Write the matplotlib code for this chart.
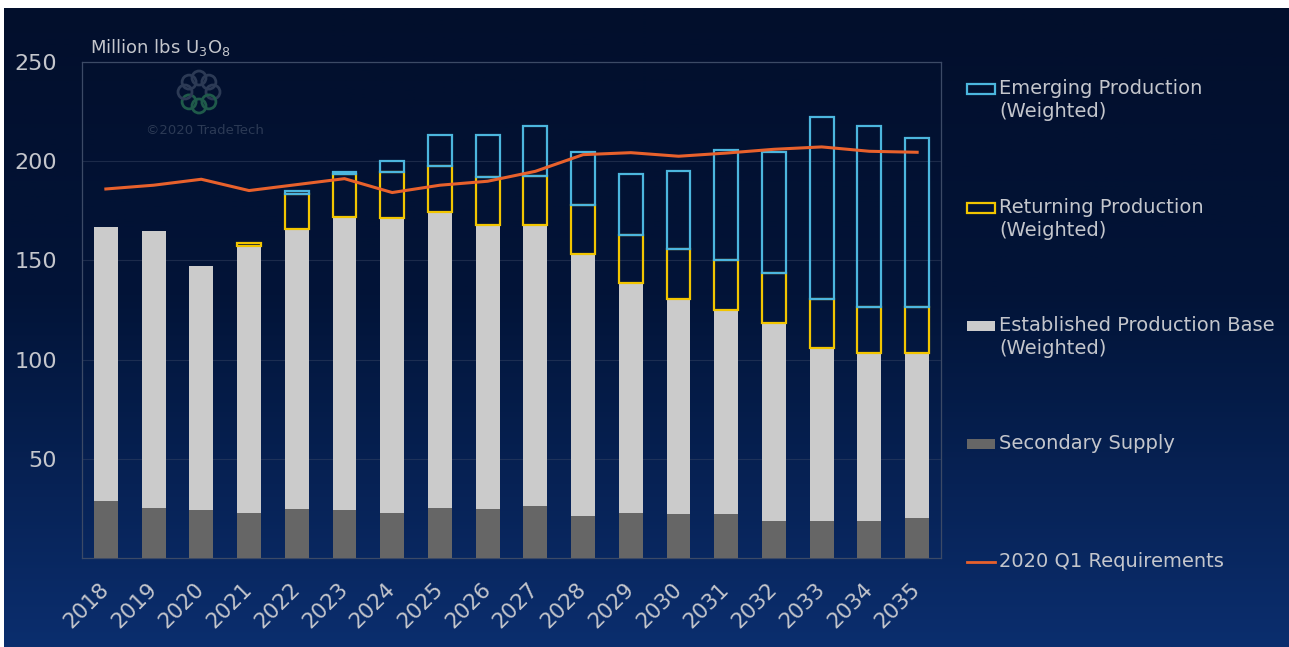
import numpy as np
import matplotlib
matplotlib.use("Agg")
import matplotlib.pyplot as plt
import matplotlib.patches as patches

years = [str(y) for y in range(2018, 2036)]
secondary = [28.6, 25.2, 24.0, 22.9, 24.7, 24.0, 22.9, 25.2, 24.7, 26.1,
             21.0, 22.9, 22.4, 22.0, 18.7, 18.4, 18.4, 20.2]
established = [138.0, 139.4, 123.0, 134.3, 141.2, 148.0, 148.5, 149.1, 142.9, 141.5,
               132.2, 115.7, 108.0, 103.0, 99.6, 87.3, 84.8, 83.0]
returning = [0, 0, 0, 1.7, 17.8, 21.8, 23.2, 23.3, 24.3, 24.7,
             24.8, 24.1, 25.1, 25.0, 25.2, 24.7, 23.3, 23.3]
emerging = [0, 0, 0, 0, 1.3, 0.8, 5.4, 15.4, 21.1, 25.3,
            26.5, 30.6, 39.4, 55.5, 61.1, 91.7, 91.1, 85.2]
requirements = [186.0, 187.9, 190.9, 185.2, 188.2, 191.2, 184.2, 187.9, 189.9, 194.9,
                203.3, 204.3, 202.5, 204.1, 206.0, 207.2, 205.0, 204.5]

legend_labels = ["Emerging Production\n(Weighted)",
                 "Returning Production\n(Weighted)",
                 "Established Production Base\n(Weighted)",
                 "Secondary Supply",
                 "2020 Q1 Requirements"]

C_SEC = "#666666"
C_EST = "#cbcbcb"
C_RET = "#f2c500"
C_EMG = "#4cb6de"
C_REQ = "#e8612c"
C_TXT = "#c4c6cc"
FONT = "DejaVu Sans"

fig = plt.figure(figsize=(12.89, 6.47), dpi=100, facecolor="white")

# background gradient (dark navy top -> blue bottom)
bg = fig.add_axes([4 / 1289, 0, 1 - 4 / 1289, 1 - 8 / 647])
bg.axis("off")
top = np.array([2, 15, 44]) / 255.0
mid = np.array([2, 20, 56]) / 255.0
bot = np.array([11, 46, 110]) / 255.0
t = np.linspace(0, 1, 256)[:, None]
grad = np.where(t < 0.45, top + (mid - top) * (t / 0.45),
                mid + (bot - mid) * ((t - 0.45) / 0.55))
bg.imshow(grad[:, None, :].repeat(2, axis=1), aspect="auto", extent=[0, 1, 0, 1])
bg.set_xlim(0, 1)
bg.set_ylim(0, 1)

ax = fig.add_axes([82 / 1289, 1 - 558 / 647, (941 - 82) / 1289, (558 - 62) / 647])
ax.patch.set_alpha(0)

x = np.arange(len(years))
sec = np.array(secondary)
est = np.array(established)
ret = np.array(returning)
emg = np.array(emerging)
w = 0.5

ax.bar(x, sec, w, color=C_SEC, zorder=3)
ax.bar(x, est, w, bottom=sec, color=C_EST, zorder=3)
m = ret > 0
ax.bar(x[m], ret[m], w, bottom=(sec + est)[m], facecolor="none",
       edgecolor=C_RET, linewidth=1.6, zorder=4)
m = emg > 0
ax.bar(x[m], emg[m], w, bottom=(sec + est + ret)[m], facecolor="none",
       edgecolor=C_EMG, linewidth=1.6, zorder=4)
ax.plot(x, requirements, color=C_REQ, linewidth=2.2, zorder=5)

ax.set_xlim(-0.5, len(years) - 0.5)
ax.set_ylim(0, 250)
ax.set_yticks([50, 100, 150, 200, 250])
ax.set_yticklabels(["50", "100", "150", "200", "250"], fontsize=16,
                   color=C_TXT, family=FONT)
ax.set_xticks(x)
ax.set_xticklabels(years, rotation=45, ha="right", va="center",
                   rotation_mode="anchor", fontsize=15.5, color=C_TXT, family=FONT)
ax.tick_params(axis="y", length=0, pad=18)
ax.tick_params(axis="x", length=0, pad=20)
ax.grid(axis="y", color="#3c4a66", linewidth=0.8, alpha=0.45, zorder=0)
for s in ax.spines.values():
    s.set_color("#3c4a66")
    s.set_linewidth(0.9)

fig.text(90 / 1289, 1 - 47 / 647, "Million lbs U$_3$O$_8$", fontsize=13,
         color=C_TXT, family=FONT, va="center", ha="left")

# watermark
fig.text(205 / 1289, 1 - 131 / 647, "©2020 TradeTech", fontsize=9.5,
         color="#2c3a55", family=FONT, ha="center", va="center")
for k in range(8):
    a = 2 * np.pi * k / 8
    cx = 199 + 14 * np.cos(a)
    cy = 92 + 14 * np.sin(a)
    col = "#1f5a4a" if k in (1, 2, 3) else "#2c3a55"
    fig.add_artist(patches.Ellipse((cx / 1289, 1 - cy / 647), 14 / 1289, 14 / 647,
                                   transform=fig.transFigure, fill=False,
                                   edgecolor=col, linewidth=2))

# legend, drawn by hand so the key lines up with the first text line
leg_y = [89, 208, 326, 444, 562]
for i, lab in enumerate(legend_labels):
    yy = 1 - leg_y[i] / 647
    if i == 0:
        fig.add_artist(patches.Rectangle((967 / 1289, yy - 5 / 647), 28 / 1289, 10 / 647,
                                         transform=fig.transFigure, facecolor="none",
                                         edgecolor=C_EMG, linewidth=1.6))
    elif i == 1:
        fig.add_artist(patches.Rectangle((967 / 1289, yy - 5 / 647), 28 / 1289, 10 / 647,
                                         transform=fig.transFigure, facecolor="none",
                                         edgecolor=C_RET, linewidth=1.6))
    elif i == 2:
        fig.add_artist(patches.Rectangle((967 / 1289, yy - 5 / 647), 28 / 1289, 10 / 647,
                                         transform=fig.transFigure, facecolor=C_EST,
                                         edgecolor="none"))
    elif i == 3:
        fig.add_artist(patches.Rectangle((967 / 1289, yy - 5 / 647), 28 / 1289, 10 / 647,
                                         transform=fig.transFigure, facecolor=C_SEC,
                                         edgecolor="none"))
    else:
        fig.add_artist(plt.Line2D([967 / 1289, 995 / 1289], [yy, yy],
                                  transform=fig.transFigure, color=C_REQ, linewidth=2))
    fig.text(999 / 1289, yy + 10 / 647, lab, fontsize=14, color=C_TXT, family=FONT,
             ha="left", va="top", linespacing=1.25)

fig.savefig("out.png", dpi=100, facecolor=fig.get_facecolor())
